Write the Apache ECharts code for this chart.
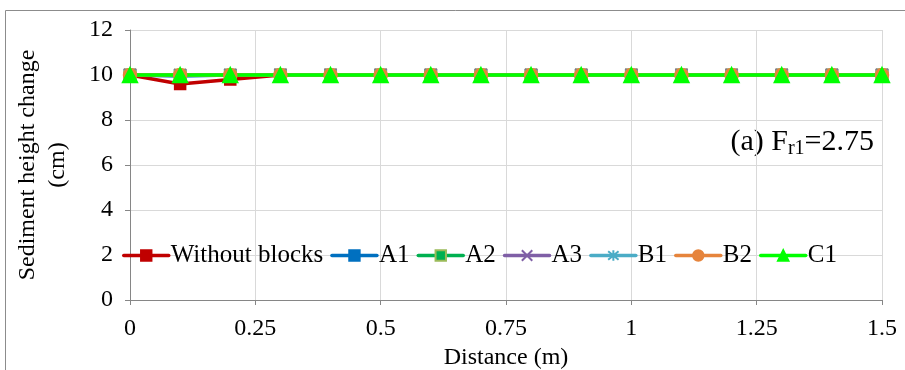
<!doctype html>
<html>
<head>
    <meta charset="utf-8">
    <title>Sediment height change</title>
    <script src="https://cdn.jsdelivr.net/npm/echarts@6/dist/echarts.min.js"></script>
</head>
<body style="margin:0;padding:0">
    <div id="tb" style="width:905px;height:370px"></div>
    <script>
        // distance (m)
        var distance = [0, 0.1, 0.2, 0.3, 0.4, 0.5, 0.6, 0.7, 0.8, 0.9, 1, 1.1, 1.2, 1.3, 1.4, 1.5];
        var withoutBlocks = [10, 9.6, 9.8, 10, 10, 10, 10, 10, 10, 10, 10, 10, 10, 10, 10, 10];
        var a1 = [10, 9.95, 10, 10, 10, 10, 10, 10, 10, 10, 10, 10, 10, 10, 10, 10];
        var a2 = [10, 10, 10, 10, 10, 10, 10, 10, 10, 10, 10, 10, 10, 10, 10, 10];
        var a3 = [10, 10, 10, 10, 10, 10, 10, 10, 10, 10, 10, 10, 10, 10, 10, 10];
        var b1 = [10, 10, 10, 10, 10, 10, 10, 10, 10, 10, 10, 10, 10, 10, 10, 10];
        var b2 = [10, 10, 10, 10, 10, 10, 10, 10, 10, 10, 10, 10, 10, 10, 10, 10];
        var c1 = [10, 10, 10, 10, 10, 10, 10, 10, 10, 10, 10, 10, 10, 10, 10, 10];
        var seriesNames = ['Without blocks', 'A1', 'A2', 'A3', 'B1', 'B2', 'C1'];

        var font = '"Liberation Serif", "Times New Roman", serif';
        var pairs = function (ys) {
            return distance.map(function (x, i) { return [x, ys[i]]; });
        };
        var mk = function (name, ys, color, symbol, size, fill, border) {
            return {
                name: name,
                type: 'line',
                data: pairs(ys),
                symbol: symbol,
                symbolSize: size,
                lineStyle: { color: color, width: 3.5 },
                itemStyle: { color: fill || color, borderColor: border || color, borderWidth: border ? 1 : 1.5 },
                z: 2
            };
        };

        var chart = echarts.init(document.getElementById('tb'));
        chart.setOption({
            animation: false,
            graphic: [{
                type: 'rect',
                shape: { x: 5.5, y: 10.5, width: 1000, height: 1000 },
                style: { fill: 'none', stroke: '#8c8c8c', lineWidth: 1 }
            }, {
                type: 'text',
                right: 31,
                top: 127,
                style: {
                    text: '(a) F{sub|r1}=2.75',
                    font: '30px ' + font,
                    fill: '#000',
                    rich: {
                        sub: { fontSize: 20, fontFamily: font, padding: [13, 0, 0, 0], fill: '#000' }
                    }
                }
            }],
            grid: { left: 130, right: 23, top: 30, bottom: 70, outerBoundsMode: 'none' },
            legend: {
                data: seriesNames,
                left: 117,
                top: 238,
                itemWidth: 45,
                itemHeight: 13,
                itemGap: 7,
                lineStyle: { width: 3.5, cap: 'round' },
                textStyle: { fontFamily: font, fontSize: 25, color: '#000', padding: [0, 0, 0, -3] }
            },
            xAxis: {
                type: 'value',
                min: 0,
                max: 1.5,
                interval: 0.25,
                name: 'Distance (m)',
                nameLocation: 'middle',
                nameGap: 42,
                nameTextStyle: { fontFamily: font, fontSize: 24, color: '#000' },
                axisLine: { lineStyle: { color: '#868686' } },
                axisTick: { show: true, length: 5, lineStyle: { color: '#868686' } },
                axisLabel: { fontFamily: font, fontSize: 24, color: '#000', margin: 17 },
                splitLine: { show: true, lineStyle: { color: '#d9d9d9' } }
            },
            yAxis: {
                type: 'value',
                min: 0,
                max: 12,
                interval: 2,
                name: 'Sediment height change\n(cm)',
                nameLocation: 'middle',
                nameGap: 57,
                nameTextStyle: { fontFamily: font, fontSize: 24, color: '#000', lineHeight: 30 },
                axisLine: { show: true, lineStyle: { color: '#868686' } },
                axisTick: { show: true, length: 5, lineStyle: { color: '#868686' } },
                axisLabel: { fontFamily: font, fontSize: 24, color: '#000', margin: 17 },
                splitLine: { show: true, lineStyle: { color: '#d9d9d9' } }
            },
            series: [
                mk('Without blocks', withoutBlocks, '#c00000', 'rect', 11),
                mk('A1', a1, '#0070c0', 'rect', 11),
                mk('A2', a2, '#00b050', 'rect', 12, '#00b050', '#9bbb59'),
                mk('A3', a3, '#7f5fa6', 'path://M0,0L10,10M10,0L0,10', 12),
                mk('B1', b1, '#4bacc6', 'path://M0,0L10,10M10,0L0,10M5,-1L5,11', 12),
                mk('B2', b2, '#e6843c', 'circle', 13),
                mk('C1', c1, '#00ff00', 'triangle', 15)
            ]
        });
    </script>
</body>
</html>
